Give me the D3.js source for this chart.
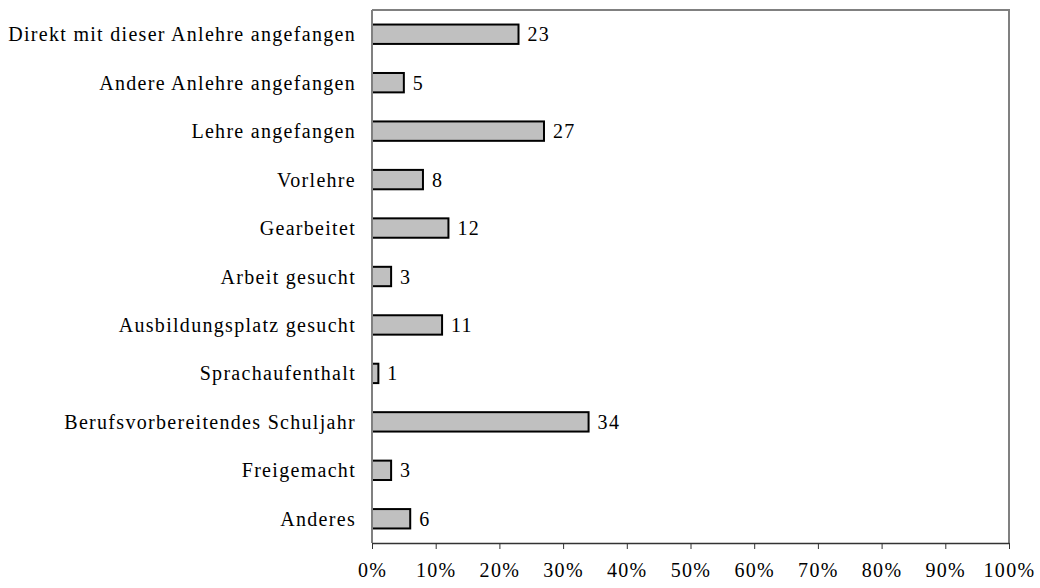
<!DOCTYPE html>
<html lang="de">
<head>
<meta charset="UTF-8">
<script src="https://cdn.jsdelivr.net/npm/d3@7"></script>
<style>
  body { margin: 0; background: #fff; }
  text { font-family: "Liberation Serif", "Times New Roman", serif; fill: #000; letter-spacing: 1.3px; }
</style>
</head>
<body>
<script>
// categories top to bottom
const categories = [
    "Direkt mit dieser Anlehre angefangen",
    "Andere Anlehre angefangen",
    "Lehre angefangen",
    "Vorlehre",
    "Gearbeitet",
    "Arbeit gesucht",
    "Ausbildungsplatz gesucht",
    "Sprachaufenthalt",
    "Berufsvorbereitendes Schuljahr",
    "Freigemacht",
    "Anderes"
];
const values = [23, 5, 27, 8, 12, 3, 11, 1, 34, 3, 6];
const xTicks = [0, 10, 20, 30, 40, 50, 60, 70, 80, 90, 100];

const width = 1040, height = 588;
const plot = { left: 372, right: 1009, top: 10, bottom: 543 };
const fontSize = 20;

const svg = d3.select("body").append("svg")
    .attr("width", width)
    .attr("height", height);

const x = d3.scaleLinear().domain([0, 100]).range([plot.left, plot.right]);
const y = d3.scaleBand().domain(categories).range([plot.top, plot.bottom]).paddingInner(0.6).paddingOuter(0.3);

// plot frame (top + right gray)
svg.append("path")
    .attr("d", `M${plot.left},${plot.top}H${plot.right}V${plot.bottom}`)
    .attr("fill", "none")
    .attr("stroke", "#808080")
    .attr("stroke-width", 2);

// bars
svg.selectAll("rect.bar")
    .data(values)
    .enter()
    .append("rect")
    .attr("class", "bar")
    .attr("x", x(0))
    .attr("y", (d, i) => y(categories[i]))
    .attr("width", d => x(d) - x(0))
    .attr("height", y.bandwidth())
    .attr("fill", "#c0c0c0")
    .attr("stroke", "#000")
    .attr("stroke-width", 2);

// value labels
svg.selectAll("text.val")
    .data(values)
    .enter()
    .append("text")
    .attr("class", "val")
    .attr("x", d => x(d) + 9)
    .attr("y", (d, i) => y(categories[i]) + y.bandwidth() / 2)
    .attr("dy", "0.35em")
    .attr("font-size", fontSize)
    .text(d => d);

// category labels
svg.selectAll("text.cat")
    .data(categories)
    .enter()
    .append("text")
    .attr("class", "cat")
    .attr("x", 356)
    .attr("y", d => y(d) + y.bandwidth() / 2)
    .attr("dy", "0.35em")
    .attr("text-anchor", "end")
    .attr("font-size", fontSize)
    .text(d => d);

// left axis line (gray)
svg.append("line")
    .attr("x1", plot.left).attr("x2", plot.left)
    .attr("y1", plot.top).attr("y2", plot.bottom)
    .attr("stroke", "#808080")
    .attr("stroke-width", 2);

// bottom axis
const xAxis = svg.append("g")
    .attr("transform", `translate(0,${plot.bottom})`)
    .call(d3.axisBottom(x).tickValues(xTicks).tickSize(6).tickSizeOuter(0).tickPadding(14).tickFormat(d => d + "%"));
xAxis.select(".domain").attr("stroke", "#333").attr("stroke-width", 1.5);
xAxis.selectAll(".tick line").attr("stroke", "#333");
xAxis.selectAll(".tick text")
    .attr("font-size", fontSize)
    .attr("font-family", "Liberation Serif, Times New Roman, serif")
    .attr("fill", "#000");
</script>
</body>
</html>
